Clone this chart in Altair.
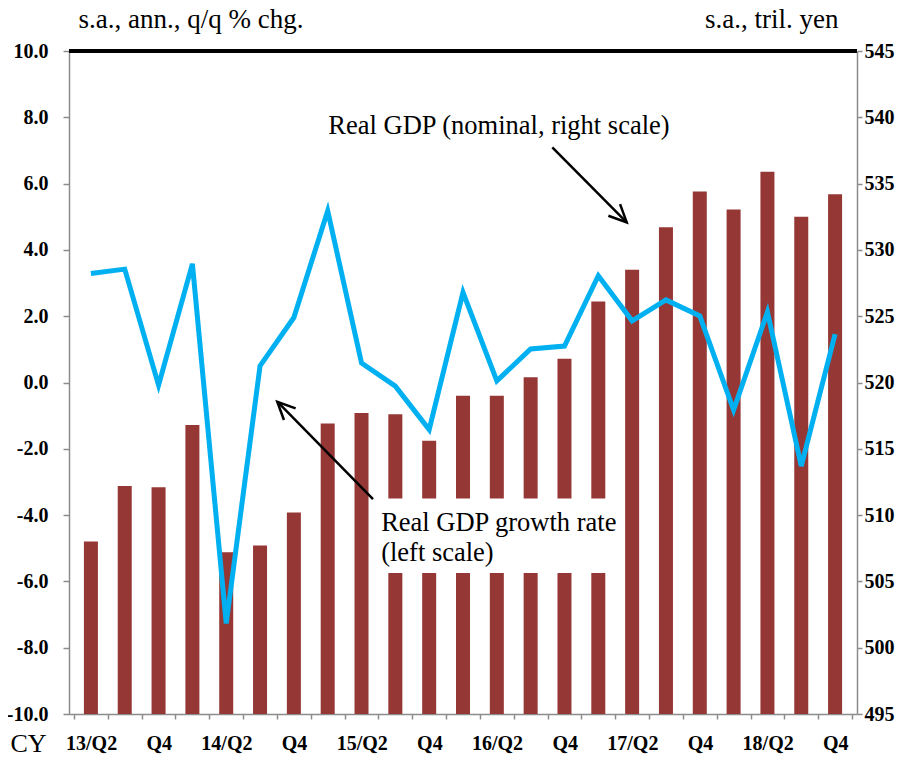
import json
import altair as alt
import pandas as pd

# ---- data ----
quarters = ["13/Q2", "13/Q3", "13/Q4", "14/Q1", "14/Q2", "14/Q3", "14/Q4",
            "15/Q1", "15/Q2", "15/Q3", "15/Q4", "16/Q1", "16/Q2", "16/Q3", "16/Q4",
            "17/Q1", "17/Q2", "17/Q3", "17/Q4", "18/Q1", "18/Q2", "18/Q3", "18/Q4"]
tick_labels = ["13/Q2", "", "Q4", "", "14/Q2", "", "Q4", "", "15/Q2", "", "Q4", "",
               "16/Q2", "", "Q4", "", "17/Q2", "", "Q4", "", "18/Q2", "", "Q4"]
nominal_gdp = [508.0, 512.2, 512.1, 516.8, 507.2, 507.7, 510.2, 516.9, 517.7, 517.6,
               515.6, 519.0, 519.0, 520.4, 521.8, 526.1, 528.5, 531.7, 534.4, 533.05,
               535.9, 532.5, 534.2]
real_growth = [3.29, 3.42, -0.08, 3.58, -7.27, 0.5, 1.96, 5.18, 0.59, -0.11, -1.42,
               2.72, 0.05, 1.01, 1.1, 3.22, 1.86, 2.49, 2.01, -0.83, 2.13, -2.52, 1.46]

left_ticks = [-10, -8, -6, -4, -2, 0, 2, 4, 6, 8, 10]
right_ticks = [495, 500, 505, 510, 515, 520, 525, 530, 535, 540, 545]

n = len(quarters)
df = pd.DataFrame({
    "pos": [i + 0.5 for i in range(n)],
    "quarter": quarters,
    "nominal": nominal_gdp,
    "growth": real_growth,
})

# ---- annotation geometry (in data coordinates: x = quarter index, y = left scale) ----
texts = pd.DataFrame({
    "tx": [7.52, 9.08, 9.08],
    "ty": [7.5, -4.47, -5.39],
    "label": ["Real GDP (nominal, right scale)", "Real GDP growth rate", "(left scale)"],
})
box = pd.DataFrame({"x0": [8.75], "x1": [16.25], "y0": [-3.5], "y1": [-5.75]})
arrows = pd.DataFrame({
    "x0": [8.84, 14.14], "y0": [-3.52, 7.09],
    "x1": [6.01, 16.34], "y1": [-0.58, 4.83],
    "ang": [225, 45],
})

W, H = 788, 663
SERIF = "Liberation Serif"
GRAY = "#8c8c8c"

xscale = alt.Scale(domain=[0, n], nice=False, zero=False)
lscale = alt.Scale(domain=[-10, 10], nice=False, zero=False)
rscale = alt.Scale(domain=[495, 545], nice=False, zero=False)

label_js = json.dumps(tick_labels + [""])
xaxis = alt.Axis(
    values=list(range(n + 1)), labelExpr=f"{label_js}[datum.value]",
    labelOffset=W / n / 2, labelOverlap=False, labelBound=False, labelFlush=False,
    labelFont=SERIF, labelFontWeight="bold", labelFontSize=20, labelColor="black",
    labelPadding=14, tickSize=5, tickColor=GRAY, domainColor=GRAY, domainWidth=1.5,
    tickWidth=1.5, grid=False,
    title="CY", titleFont=SERIF, titleFontSize=26, titleFontWeight="normal",
    titleColor="black", titleAngle=0, titleAlign="left", titleBaseline="alphabetic",
    titleX=-59, titleY=37,
)

def X(field):
    return alt.X(field, type="quantitative", scale=xscale, axis=xaxis)

bars = alt.Chart(df).mark_bar(width=14, color="#953735", clip=True).encode(
    x=X("pos"),
    y=alt.Y("nominal:Q", scale=rscale, axis=alt.Axis(
        orient="right", values=right_ticks, format="d",
        labelFont=SERIF, labelFontWeight="bold", labelFontSize=20, labelColor="black",
        labelPadding=2, tickSize=5, tickColor=GRAY, domainColor=GRAY, domainWidth=1.5,
        tickWidth=1.5, grid=False,
        title="s.a., tril. yen", titleFont=SERIF, titleFontSize=27,
        titleFontWeight="normal", titleColor="black", titleAngle=0,
        titleAlign="right", titleBaseline="alphabetic", titleX=-19, titleY=-24)),
)

white_box = alt.Chart(box).mark_rect(color="white").encode(
    x=X("x0"), x2="x1",
    y=alt.Y("y0:Q", scale=lscale, axis=None), y2="y1",
)

line = alt.Chart(df).mark_line(color="#00B0F0", strokeWidth=5, strokeJoin="miter").encode(
    x=X("pos"),
    y=alt.Y("growth:Q", scale=lscale, axis=alt.Axis(
        orient="left", values=left_ticks,
        labelExpr="(datum.value < 0 ? '-' : '') + format(abs(datum.value), '.1f')",
        labelFont=SERIF, labelFontWeight="bold", labelFontSize=20, labelColor="black",
        labelPadding=15, tickSize=6, tickColor=GRAY, domainColor=GRAY, domainWidth=1.5,
        tickWidth=1.5, grid=False,
        title="s.a., ann., q/q % chg.", titleFont=SERIF, titleFontSize=27,
        titleFontWeight="normal", titleColor="black", titleAngle=0,
        titleAlign="left", titleBaseline="alphabetic", titleX=9, titleY=-24)),
)

top_rule = alt.Chart(df).mark_rule(color="black", strokeWidth=2.5).encode(
    y=alt.YDatum(10, type="quantitative", scale=lscale, axis=None),
)

shafts = alt.Chart(arrows).mark_rule(color="black", strokeWidth=2.5).encode(
    x=X("x0"), x2="x1",
    y=alt.Y("y0:Q", scale=lscale, axis=None), y2="y1",
)

heads = alt.Chart(arrows).mark_point(
    shape="M -0.906 -0.423 L 0 0 L -0.906 0.423", size=1521, filled=False,
    color="black", strokeWidth=2.5, opacity=1,
).encode(
    x=X("x1"),
    y=alt.Y("y1:Q", scale=lscale, axis=None),
    angle=alt.Angle("ang:Q", scale=None),
)

notes = alt.Chart(texts).mark_text(
    font=SERIF, fontSize=26.5, align="left", baseline="alphabetic", color="black",
).encode(
    x=X("tx"),
    y=alt.Y("ty:Q", scale=lscale, axis=None),
    text="label:N",
)

chart = alt.layer(bars, white_box, line, top_rule, shafts, heads, notes).resolve_scale(
    y="independent"
).properties(
    width=W, height=H,
    autosize=alt.AutoSizeParams(type="none"),
    padding={"left": 61, "top": 43, "right": 40, "bottom": 41},
).configure_view(stroke=None)

chart.save("out.html", embed_options={"renderer": "svg", "actions": False})
